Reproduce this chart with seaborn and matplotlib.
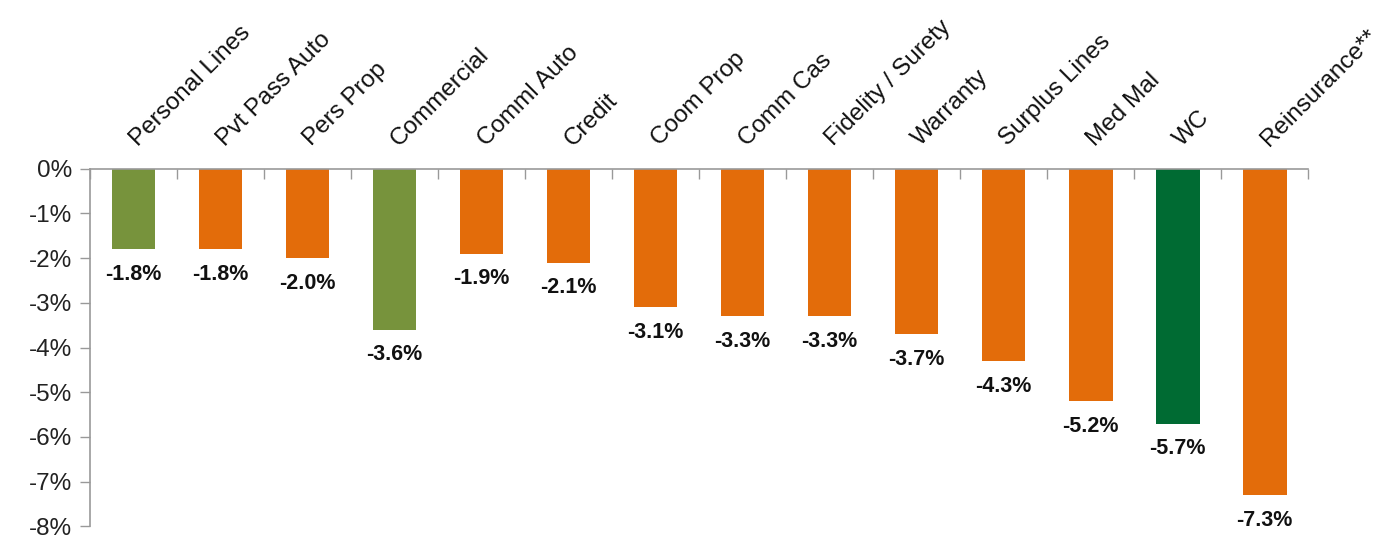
import seaborn as sns
import matplotlib.pyplot as plt
import matplotlib as mpl
import pandas as pd

mpl.rcParams['font.family'] = ['Liberation Sans', 'DejaVu Sans']

categories = ['Personal Lines', 'Pvt Pass Auto', 'Pers Prop', 'Commercial', 'Comml Auto',
              'Credit', 'Coom Prop', 'Comm Cas', 'Fidelity / Surety', 'Warranty',
              'Surplus Lines', 'Med Mal', 'WC', 'Reinsurance**']
values = [-1.8, -1.8, -2.0, -3.6, -1.9, -2.1, -3.1, -3.3, -3.3, -3.7, -4.3, -5.2, -5.7, -7.3]
colors = ['#77933C', '#E36C0A', '#E36C0A', '#77933C', '#E36C0A', '#E36C0A', '#E36C0A',
          '#E36C0A', '#E36C0A', '#E36C0A', '#E36C0A', '#E36C0A', '#006B33', '#E36C0A']

df = pd.DataFrame({'cat': categories, 'val': values})

fig = plt.figure(figsize=(13.83, 5.41), dpi=100)
ax = fig.add_axes([0.065, 0.027, 0.881, 0.661])

sns.barplot(data=df, x='cat', y='val', hue='cat', palette=colors, legend=False,
            width=0.5, saturation=1, ax=ax)

ax.set_ylim(-8, 0)
ax.set_xlim(-0.5, len(categories) - 0.5)
ax.set_yticks(range(-8, 1))
ax.set_yticklabels([f'{t}%' for t in range(-8, 1)], fontsize=17.5, color='#222222')
ax.set_xlabel('')
ax.set_ylabel('')

# x ticks between categories, on the top line
ax.xaxis.tick_top()
ax.set_xticks([i + 0.5 for i in range(-1, len(categories))])
ax.set_xticklabels([])
ax.tick_params(axis='x', direction='in', length=7, color='#999999', width=1, pad=2)
ax.tick_params(axis='y', direction='out', length=7, color='#999999', width=1, pad=6)

for s in ['right', 'bottom']:
    ax.spines[s].set_visible(False)
for s in ['left', 'top']:
    ax.spines[s].set_color('#999999')
    ax.spines[s].set_linewidth(1.2)

# category labels rotated above the axis
for i, c in enumerate(categories):
    ax.annotate(c, xy=(i, 0), xytext=(3, 16), textcoords='offset points',
                rotation=45, rotation_mode='anchor', ha='left', va='baseline',
                fontsize=17.5, color='#111111', annotation_clip=False)

# value labels under each bar
for i, v in enumerate(values):
    ax.annotate(f'{v:.1f}%', xy=(i, v), xytext=(0, -18), textcoords='offset points',
                ha='center', va='center', fontsize=15.5, fontweight='bold', color='#111111',
                annotation_clip=False)

fig.savefig('out.png', dpi=100)
